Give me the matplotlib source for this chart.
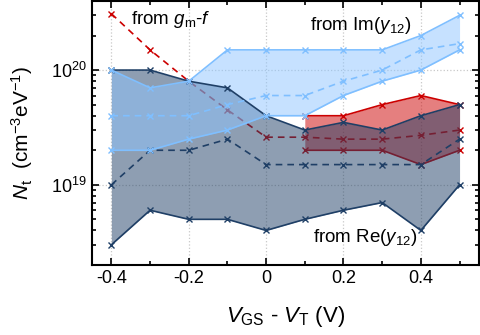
import matplotlib
matplotlib.use("Agg")
import matplotlib.pyplot as plt
from matplotlib.ticker import LogLocator, MultipleLocator, NullFormatter, FixedLocator

plt.rcParams['font.family'] = ['Liberation Sans', 'DejaVu Sans']
plt.rcParams['mathtext.fontset'] = 'custom'
plt.rcParams['mathtext.rm'] = 'Liberation Sans'
plt.rcParams['mathtext.it'] = 'Liberation Sans:italic'
plt.rcParams['axes.unicode_minus'] = False

vgs = [-0.4, -0.3, -0.2, -0.1, 0.0, 0.1, 0.2, 0.3, 0.4, 0.5]

# Re(y12) (navy)
re_hi = [1e20, 1e20, 8e19, 7e19, 4e19, 3e19, 3.5e19, 3e19, 4e19, 5e19]
re_lo = [3e18, 6e18, 5e18, 5e18, 4e18, 5e18, 6e18, 7e18, 4e18, 1e19]
re_mid = [1e19, 2e19, 2e19, 2.5e19, 1.5e19, 1.5e19, 1.5e19, 1.5e19, 1.5e19, 2.5e19]

# Im(y12) (light blue)
im_hi = [1e20, 7e19, 8e19, 1.5e20, 1.5e20, 1.5e20, 1.5e20, 1.5e20, 2e20, 3e20]
im_lo = [2e19, 2e19, 2.5e19, 3e19, 4e19, 4e19, 6e19, 8e19, 1e20, 1.5e20]
im_mid = [4e19, 4e19, 4e19, 5e19, 6e19, 6e19, 8e19, 1e20, 1.5e20, 1.7e20]

# gm-f (red)
gm_x = [0.1, 0.2, 0.3, 0.4, 0.5]
gm_hi = [4e19, 4e19, 5e19, 6e19, 5e19]
gm_lo = [2e19, 2e19, 2e19, 1.5e19, 2e19]
gm_mid = [3.1e20, 1.5e20, 8e19, 4.5e19, 2.6e19, 2.6e19, 2.5e19, 2.5e19, 2.7e19, 3e19]

navy = '#1f3f66'
lblue = '#7fbfff'
red = '#cc0000'

fig = plt.figure(figsize=(4.8, 3.35), dpi=100)
ax = fig.add_axes([0.1917, 0.209, 0.806, 0.788])

ms = 4
# red (bottom layer)
ax.fill_between(gm_x, gm_lo, gm_hi, color=red, alpha=0.5, lw=0, zorder=1)
ax.plot(gm_x, gm_hi, color=red, marker='x', ms=ms, lw=1.2, zorder=1.5)
ax.plot(gm_x, gm_lo, color=red, marker='x', ms=ms, lw=1.2, zorder=1.5)
ax.plot(vgs, gm_mid, color=red, marker='x', ms=ms, lw=1.2, ls=(0, (4, 3)), zorder=1.5)

# navy
ax.fill_between(vgs, re_lo, re_hi, color=navy, alpha=0.5, lw=0, zorder=2)
# light blue
ax.fill_between(vgs, im_lo, im_hi, color='#8ec5ff', alpha=0.5, lw=0, zorder=3)

ax.plot(vgs, re_hi, color=navy, marker='x', ms=ms, lw=1.2, zorder=4)
ax.plot(vgs, re_lo, color=navy, marker='x', ms=ms, lw=1.2, zorder=4)
ax.plot(vgs, re_mid, color=navy, marker='x', ms=ms, lw=1.2, ls=(0, (4, 3)), zorder=4)

ax.plot(vgs, im_hi, color=lblue, marker='x', ms=ms, lw=1.2, zorder=5)
ax.plot(vgs, im_lo, color=lblue, marker='x', ms=ms, lw=1.2, zorder=5)
ax.plot(vgs, im_mid, color=lblue, marker='x', ms=ms, lw=1.2, ls=(0, (4, 3)), zorder=5)

ax.set_yscale('log')
ax.set_xlim(-0.45, 0.55)
ax.set_ylim(2e18, 4e20)

ax.xaxis.set_major_locator(FixedLocator([-0.4, -0.2, 0.0, 0.2, 0.4]))
ax.set_xticklabels(['-0.4', '-0.2', '0', '0.2', '0.4'])
ax.xaxis.set_minor_locator(MultipleLocator(0.1))
ax.yaxis.set_major_locator(FixedLocator([1e19, 1e20]))
ax.yaxis.set_minor_locator(LogLocator(base=10, subs=range(2, 10)))
ax.yaxis.set_minor_formatter(NullFormatter())

ax.tick_params(which='both', direction='in', top=True, right=True, labelsize=13, width=1.2)
ax.tick_params(which='major', length=5)
ax.tick_params(which='minor', length=3)
for s in ax.spines.values():
    s.set_linewidth(1.5)
ax.grid(True, which='major', color='#c8c8c8', ls=':', lw=0.9, zorder=0)
ax.set_axisbelow(True)

ax.set_xlabel(r'$V_{\mathrm{GS}}$ - $V_{\mathrm{T}}$ (V)', fontsize=16, labelpad=12)
ax.set_ylabel(r'$N_{\mathrm{t}}$  (cm$^{-3}$eV$^{-1}$)', fontsize=15, labelpad=12)

ax.text(-0.35, 2.75e20, r'from $g_{\mathrm{m}}$-$f$', fontsize=13.5, va='center', ha='left', zorder=6)
ax.text(0.113, 2.45e20, r'from Im($y_{12}$)', fontsize=13.5, va='center', ha='left', zorder=6)
ax.text(0.12, 3.5e18, r'from Re($y_{12}$)', fontsize=13.5, va='center', ha='left', zorder=6)

fig.savefig('out.png', dpi=100)
